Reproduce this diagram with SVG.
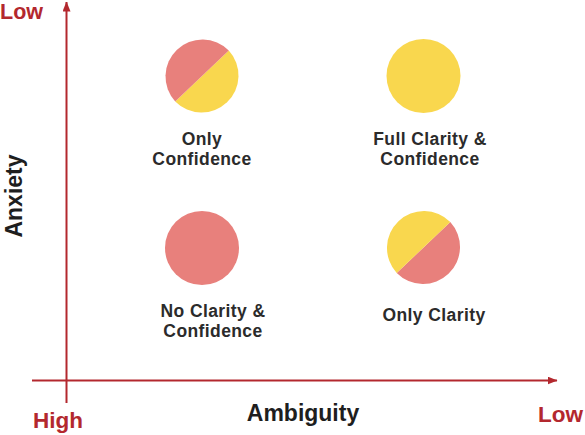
<svg xmlns="http://www.w3.org/2000/svg" width="585" height="435" viewBox="0 0 585 435">
  <style>
    .axis { stroke: #B3282E; stroke-width: 2; fill: none; }
    .red { fill: #E8807C; }
    .yel { fill: #F9D74E; }
    .lbl { font-family: "Liberation Sans", Arial, sans-serif; font-weight: 700; font-size: 17.5px; fill: #2b2b2b; text-anchor: middle; letter-spacing: 0.4px; }
    .ttl { font-family: "Liberation Sans", Arial, sans-serif; font-weight: 700; font-size: 23px; fill: #1e1e1e; text-anchor: middle; }
    .rlbl { font-family: "Liberation Sans", Arial, sans-serif; font-weight: 700; fill: #B3282E; }
  </style>
  <defs>
    <marker id="arr" viewBox="0 0 10 8" refX="9.5" refY="4" markerWidth="10" markerHeight="8" markerUnits="userSpaceOnUse" orient="auto">
      <path d="M0,0 L10,4 L0,8 Z" fill="#B3282E"/>
    </marker>
  </defs>
  <rect width="585" height="435" fill="#ffffff"/>
  <g id="connectors">
    <line class="axis" x1="66.5" y1="403" x2="66.5" y2="2" marker-end="url(#arr)"/>
    <line class="axis" x1="32" y1="380.5" x2="557" y2="380.5" marker-end="url(#arr)"/>
  </g>
  <g id="axis-labels">
    <text class="rlbl" x="0" y="19" font-size="21.5">Low</text>
    <text class="rlbl" x="33" y="428" font-size="22.5">High</text>
    <text class="rlbl" x="538" y="422" font-size="22.5">Low</text>
    <text class="ttl" x="303" y="421">Ambiguity</text>
    <text class="ttl" transform="translate(22,196) rotate(-90)" x="0" y="0">Anxiety</text>
  </g>
  <g id="only-confidence">
    <path class="yel" d="M228.8,50.5 A37,37 0 0 1 175.2,101.5 Z"/>
    <path class="red" d="M228.8,50.5 A37,37 0 0 0 175.2,101.5 Z"/>
    <text class="lbl" x="202" y="145">Only</text>
    <text class="lbl" x="202" y="165">Confidence</text>
  </g>
  <g id="full-clarity-confidence">
    <circle class="yel" cx="423.5" cy="76" r="37"/>
    <text class="lbl" x="430" y="145">Full Clarity &amp;</text>
    <text class="lbl" x="430" y="165">Confidence</text>
  </g>
  <g id="no-clarity-confidence">
    <circle class="red" cx="202" cy="248" r="37"/>
    <text class="lbl" x="213" y="316.5">No Clarity &amp;</text>
    <text class="lbl" x="213" y="336.5">Confidence</text>
  </g>
  <g id="only-clarity">
    <path class="red" d="M450.3,222 A37,37 0 0 1 396.7,273 Z"/>
    <path class="yel" d="M450.3,222 A37,37 0 0 0 396.7,273 Z"/>
    <text class="lbl" x="434" y="320.5">Only Clarity</text>
  </g>
</svg>
